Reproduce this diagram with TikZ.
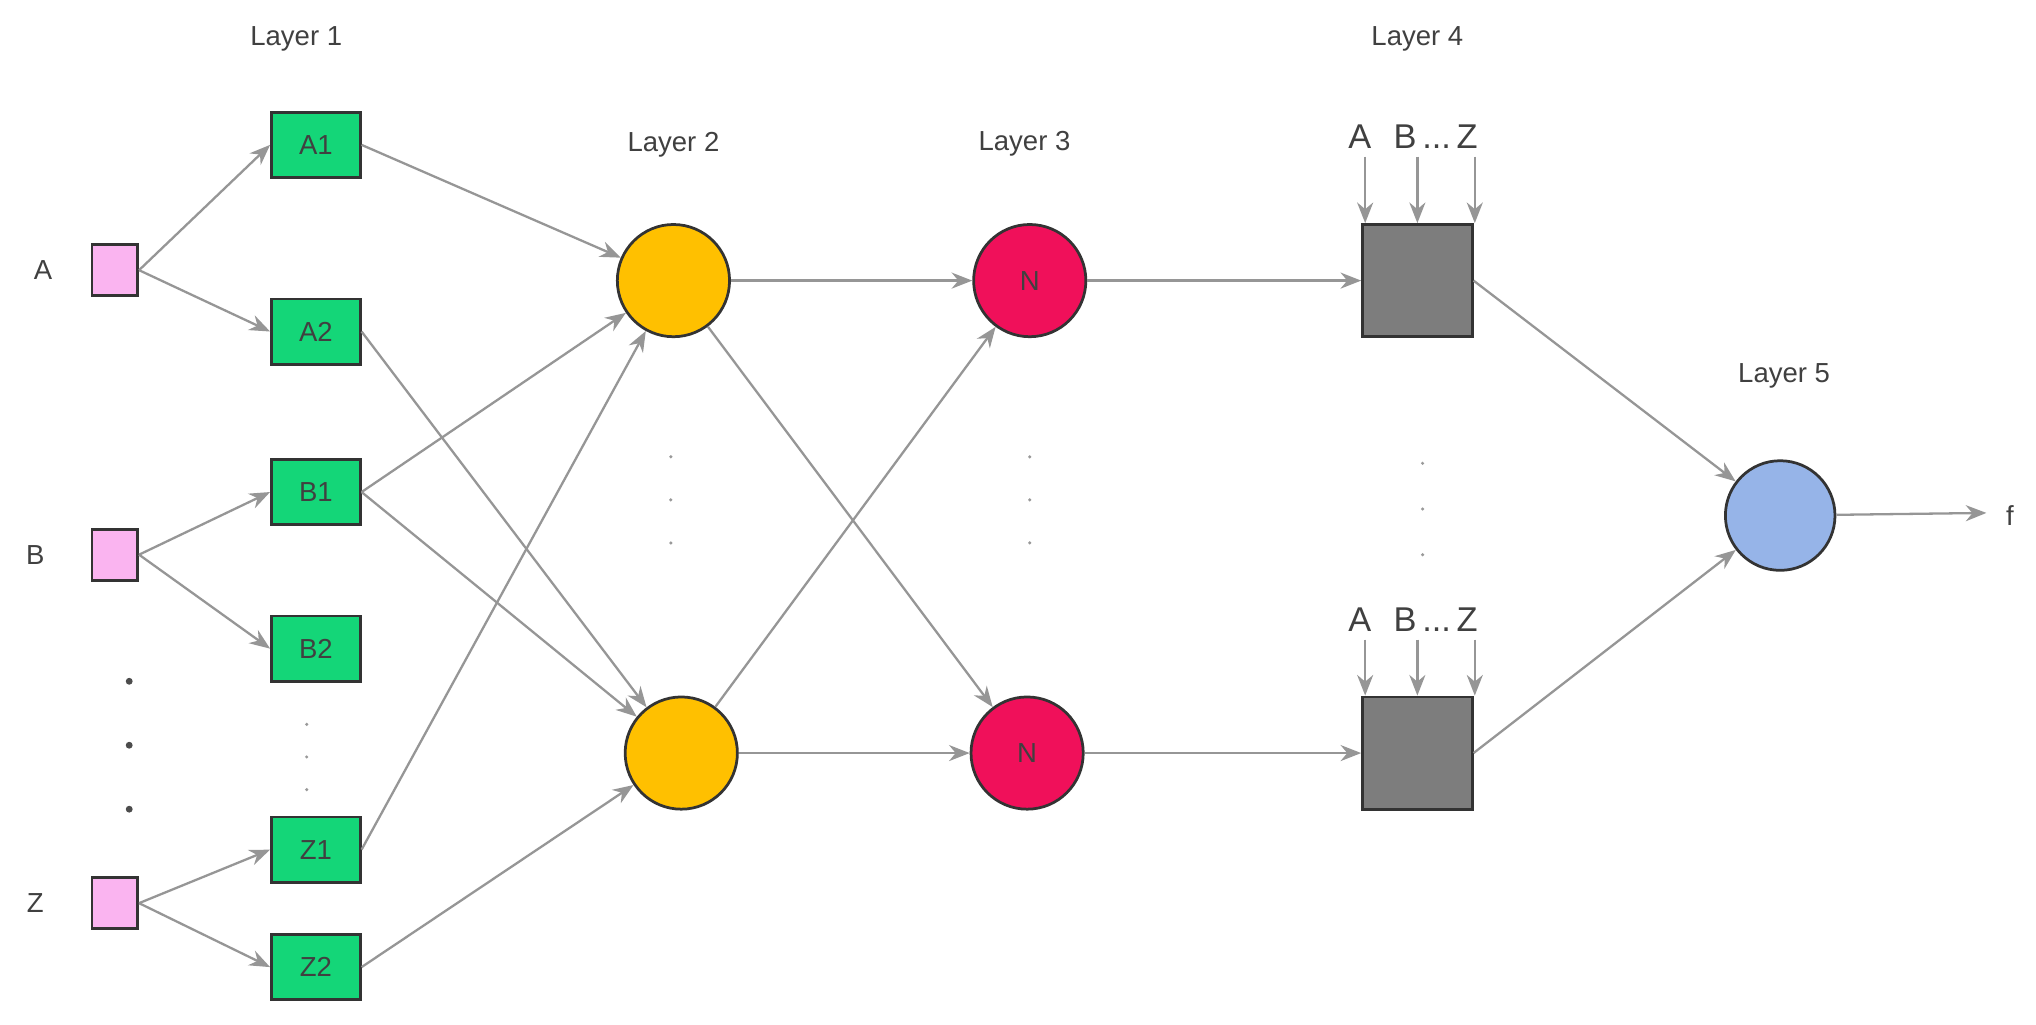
\documentclass[tikz,border=0pt]{standalone}
\usepackage{fontspec}
\setmainfont{Liberation Sans}
\usetikzlibrary{arrows.meta}
\definecolor{grn}{RGB}{20,214,120}
\definecolor{pnk}{RGB}{250,180,240}
\definecolor{ylw}{RGB}{255,192,0}
\definecolor{rd}{RGB}{240,16,90}
\definecolor{gry}{RGB}{125,125,125}
\definecolor{blu}{RGB}{150,180,232}
\definecolor{edge}{RGB}{150,150,150}
\begin{document}
\begin{tikzpicture}[x=0.02cm,y=-0.02cm,
  every node/.style={font=\fontsize{12}{14}\selectfont, text=black!75},
  inp/.style={draw=black!80,line width=1.2pt,fill=pnk,minimum width=0.7cm,minimum height=0.78cm,inner sep=0pt},
  box/.style={draw=black!80,line width=1.2pt,fill=grn,minimum width=1.36cm,minimum height=1cm,inner sep=0pt},
  yc/.style={circle,draw=black!80,line width=1.2pt,fill=ylw,minimum size=1.72cm,inner sep=0pt},
  rc/.style={circle,draw=black!80,line width=1.2pt,fill=rd,minimum size=1.72cm,inner sep=0pt},
  gs/.style={draw=black!80,line width=1.2pt,fill=gry,minimum width=1.68cm,minimum height=1.72cm,inner sep=0pt},
  bc/.style={circle,draw=black!80,line width=1.2pt,fill=blu,minimum size=1.68cm,inner sep=0pt},
  ar/.style={draw=edge,line width=1pt,-{Stealth[length=9pt,width=7pt]}},
  dot/.style={circle,fill=black!70,inner sep=0pt,minimum size=3pt},
  fd/.style={circle,fill=black!40,inner sep=0pt,minimum size=1.5pt}]
\useasboundingbox (0,0) rectangle (1560,785);
% labels
\node (l1) at (227,30) {Layer 1};
\node (l2) at (516,111) {Layer 2};
\node (l3) at (785,110) {Layer 3};
\node (l4) at (1086,30) {Layer 4};
\node (l5) at (1367,288) {Layer 5};
% inputs
\node (tA) at (33,207) {A};
\node (tB) at (27,425) {B};
\node (tZ) at (27,692) {Z};
\node[inp] (A) at (88,207) {};
\node[inp] (B) at (88,425) {};
\node[inp] (Z) at (88,692) {};
\foreach \y [count=\i] in {522,571,620} \node[dot] (d\i) at (99,\y) {};
% layer 1
\node[box] (A1) at (242,111) {A1};
\node[box] (A2) at (242,254) {A2};
\node[box] (B1) at (242,377) {B1};
\node[box] (B2) at (242,497) {B2};
\node[box] (Z1) at (242,651) {Z1};
\node[box] (Z2) at (242,741) {Z2};
\foreach \y [count=\i] in {555,580,605} \node[fd] (e\i) at (235,\y) {};
% layer 2
\node[yc] (P) at (516,215) {};
\node[yc] (Q) at (522,577) {};
\foreach \y [count=\i] in {350,383,416} \node[fd] (f\i) at (514,\y) {};
% layer 3
\node[rc] (N1) at (789,215) {N};
\node[rc] (N2) at (787,577) {N};
\foreach \y [count=\i] in {350,383,416} \node[fd] (g\i) at (789,\y) {};
% layer 4
\node[gs] (S1) at (1086,215) {};
\node[gs] (S2) at (1086,577) {};
\foreach \y [count=\i] in {355,390,425} \node[fd] (h\i) at (1090,\y) {};
\foreach \yy/\s in {105/a,475/b}{
  \node[font=\fontsize{15}{17}\selectfont] (\s A) at (1042,\yy) {A};
  \node[font=\fontsize{15}{17}\selectfont] (\s B) at (1100,\yy) {B\,...\,Z};
  \coordinate (\s1) at (1046,\yy+15);
  \coordinate (\s2) at (1086,\yy+15);
  \coordinate (\s3) at (1130,\yy+15);
}
\foreach \i in {1,2,3} {
  \draw[ar] (a\i) -- (a\i |- S1.north);
  \draw[ar] (b\i) -- (b\i |- S2.north);
}
% layer 5
\node[bc] (O) at (1364,395) {};
\coordinate (fe) at (1522,393);
\node (f) at (1540,395) {f};
% edges
\draw[ar] (A.east) -- (A1.west);
\draw[ar] (A.east) -- (A2.west);
\draw[ar] (B.east) -- (B1.west);
\draw[ar] (B.east) -- (B2.west);
\draw[ar] (Z.east) -- (Z1.west);
\draw[ar] (Z.east) -- (Z2.west);
\draw[ar] (A1.east) -- (P);
\draw[ar] (B1.east) -- (P);
\draw[ar] (Z1.east) -- (P);
\draw[ar] (A2.east) -- (Q);
\draw[ar] (B1.east) -- (Q);
\draw[ar] (Z2.east) -- (Q);
\draw[ar] (P) -- (N1);
\draw[ar] (P) -- (N2);
\draw[ar] (Q) -- (N1);
\draw[ar] (Q) -- (N2);
\draw[ar] (N1) -- (S1);
\draw[ar] (N2) -- (S2);
\draw[ar] (S1.east) -- (O);
\draw[ar] (S2.east) -- (O);
\draw[ar] (O) -- (fe);
\end{tikzpicture}
\end{document}
